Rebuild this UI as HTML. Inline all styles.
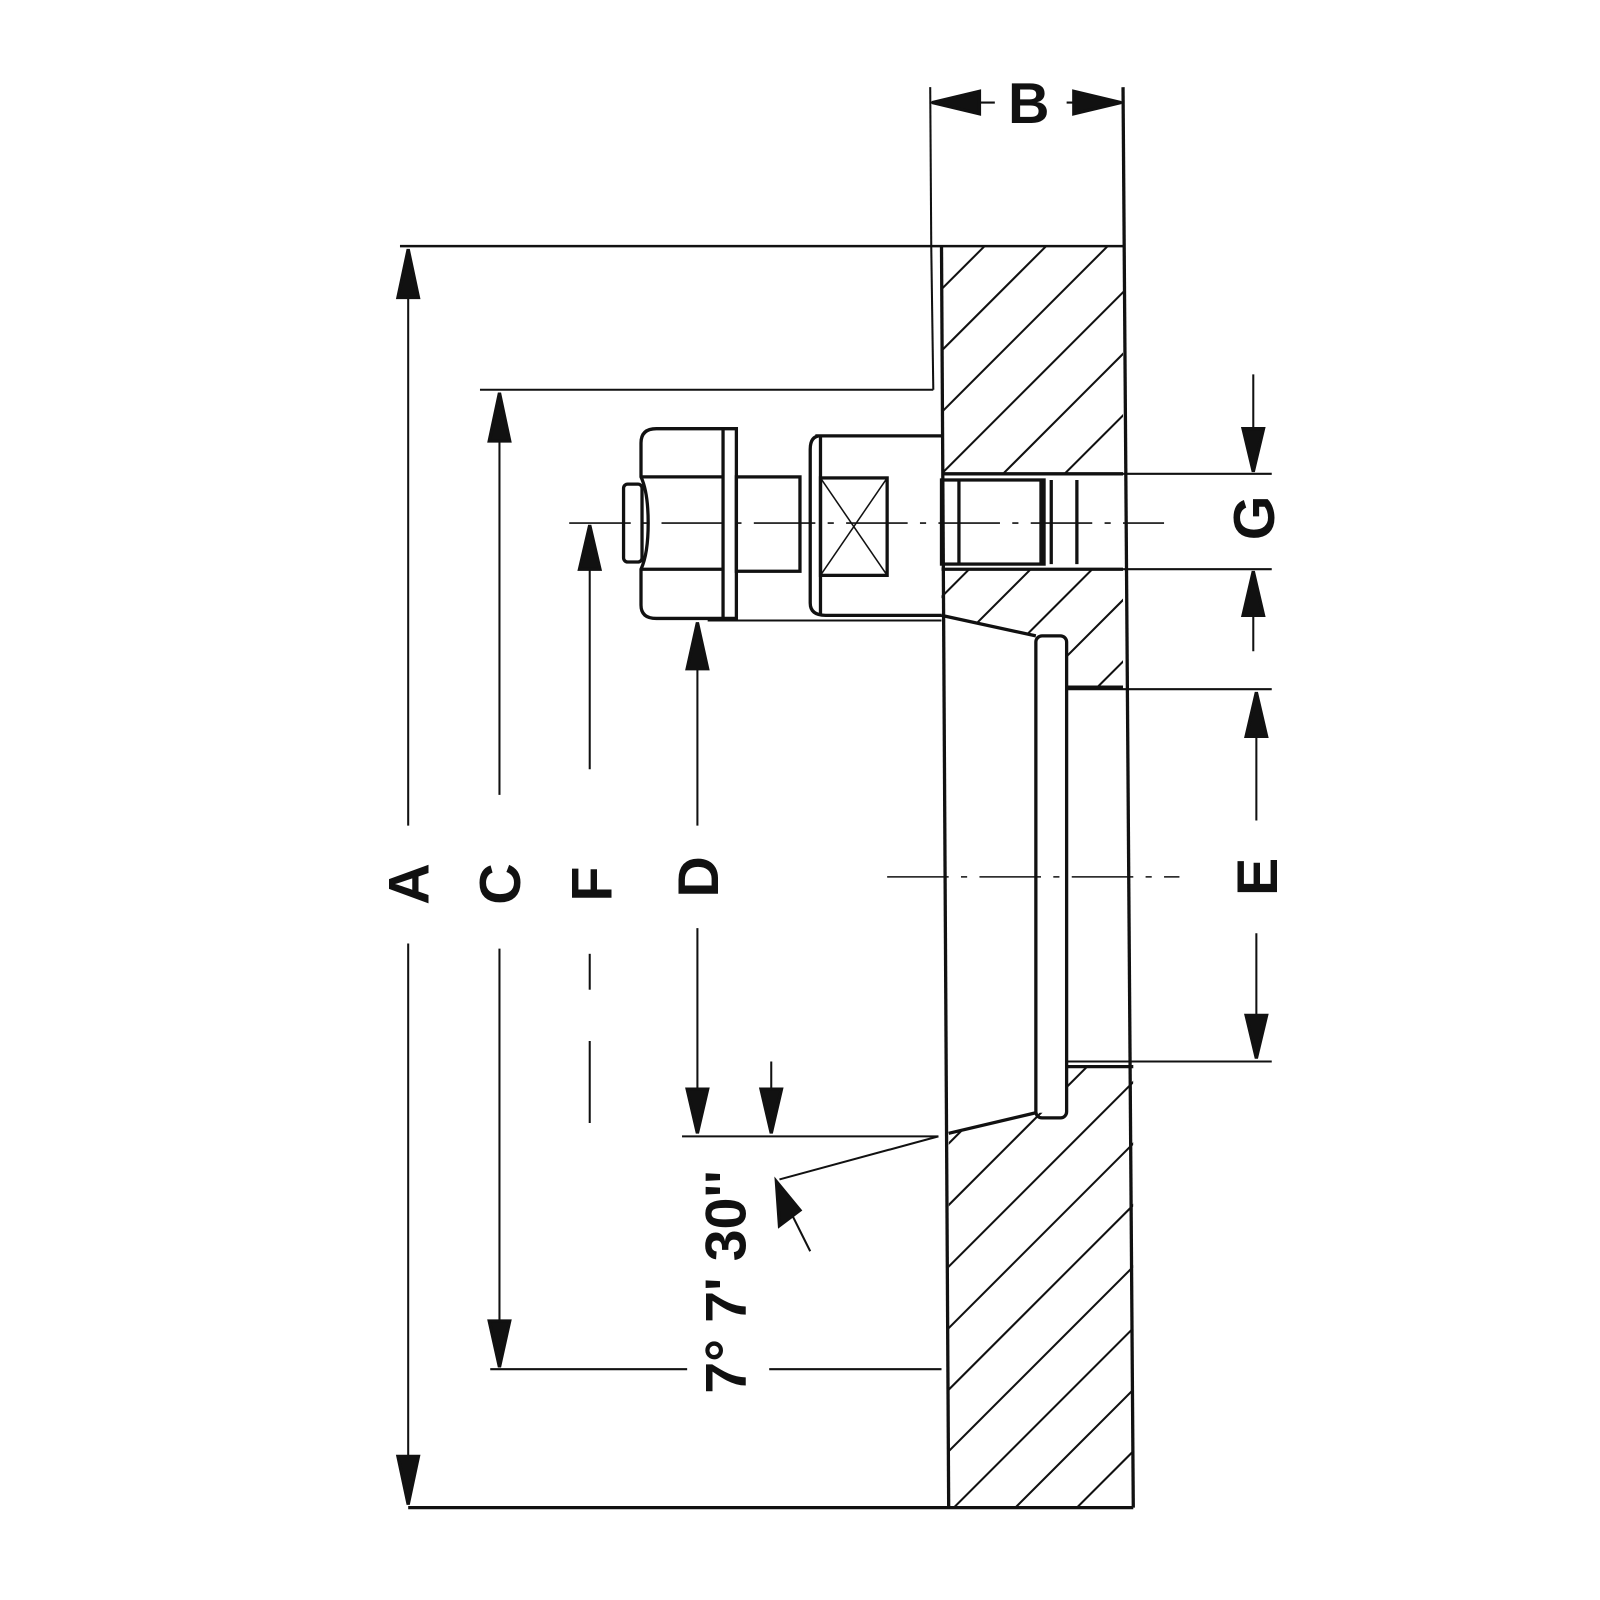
<!DOCTYPE html>
<html><head><meta charset="utf-8"><style>html,body{margin:0;padding:0;background:#fff;width:1600px;height:1600px;overflow:hidden;}svg{display:block}</style></head>
<body>
<svg width="1600" height="1600" viewBox="0 0 1600 1600" xmlns="http://www.w3.org/2000/svg">
<defs>
<clipPath id="h1"><polygon points="918,240 1095,240 1095,462 918,462"/></clipPath>
<clipPath id="h2"><polygon points="918,555 1095,555 1095,670 1040,670 1040,625 1010,620 918,600"/></clipPath>
<clipPath id="h3"><polygon points="925,1105 1010,1085 1040,1085 1040,1040 1105,1040 1105,1470 925,1470"/></clipPath>
<g id="hatch" stroke="#111" stroke-width="2">
<line x1="700" y1="500" x2="1300" y2="-100"/><line x1="700" y1="560" x2="1300" y2="-40"/><line x1="700" y1="620" x2="1300" y2="20"/><line x1="700" y1="680" x2="1300" y2="80"/><line x1="700" y1="740" x2="1300" y2="140"/><line x1="700" y1="800" x2="1300" y2="200"/><line x1="700" y1="860" x2="1300" y2="260"/><line x1="700" y1="920" x2="1300" y2="320"/><line x1="700" y1="980" x2="1300" y2="380"/><line x1="700" y1="1040" x2="1300" y2="440"/><line x1="700" y1="1100" x2="1300" y2="500"/><line x1="700" y1="1160" x2="1300" y2="560"/><line x1="700" y1="1220" x2="1300" y2="620"/><line x1="700" y1="1280" x2="1300" y2="680"/><line x1="700" y1="1340" x2="1300" y2="740"/><line x1="700" y1="1400" x2="1300" y2="800"/><line x1="700" y1="1460" x2="1300" y2="860"/><line x1="700" y1="1520" x2="1300" y2="920"/><line x1="700" y1="1580" x2="1300" y2="980"/><line x1="700" y1="1640" x2="1300" y2="1040"/><line x1="700" y1="1700" x2="1300" y2="1100"/><line x1="700" y1="1760" x2="1300" y2="1160"/><line x1="700" y1="1820" x2="1300" y2="1220"/><line x1="700" y1="1880" x2="1300" y2="1280"/><line x1="700" y1="1940" x2="1300" y2="1340"/><line x1="700" y1="2000" x2="1300" y2="1400"/><line x1="700" y1="2060" x2="1300" y2="1460"/>
</g>
</defs>
<g transform="scale(1.0256)" fill="none" stroke="#111" stroke-width="3.2" font-family="Liberation Sans, sans-serif">
<use href="#hatch" clip-path="url(#h1)"/>
<use href="#hatch" clip-path="url(#h2)"/>
<use href="#hatch" clip-path="url(#h3)"/>
<line x1="390" y1="240" x2="1095" y2="240" stroke-width="2.5"/>
<line x1="398" y1="1470" x2="1105" y2="1470"/>
<line x1="918" y1="240" x2="925" y2="1470"/>
<line x1="908" y1="240" x2="910" y2="380" stroke-width="2"/>
<line x1="1095" y1="85" x2="1105" y2="1470"/>
<line x1="907" y1="85" x2="908" y2="240" stroke-width="2"/>
<line x1="918" y1="462" x2="1095" y2="462"/>
<line x1="918" y1="555" x2="1095" y2="555"/>
<polyline points="918,600 1010,620"/>
<polyline points="925,1105 1010,1085"/>
<rect x="1010" y="620" width="30" height="470" rx="6"/>
<line x1="1040" y1="672" x2="1240" y2="672" stroke-width="2"/>
<line x1="1040" y1="1035" x2="1240" y2="1035" stroke-width="2"/>
<line x1="1040" y1="670" x2="1095" y2="670"/>
<line x1="1040" y1="1040" x2="1105" y2="1040"/>
<path d="M640,418 H718 V603 H640 Q625,603 625,590 V555 Q632,540 632,510 Q632,480 625,465 V432 Q625,418 640,418 Z"/>
<line x1="705" y1="418" x2="705" y2="603"/>
<line x1="625" y1="465" x2="705" y2="465"/>
<line x1="625" y1="555" x2="705" y2="555"/>
<rect x="608" y="472" width="18" height="76" rx="4"/>
<rect x="718" y="465" width="62" height="92"/>
<path d="M795,425 H918 M918,600 H805 Q790,600 790,588 V438 Q790,425 800,425"/>
<line x1="800" y1="425" x2="800" y2="600"/>
<rect x="800" y="466" width="65" height="95"/>
<line x1="800" y1="466" x2="865" y2="561" stroke-width="1.5"/>
<line x1="865" y1="466" x2="800" y2="561" stroke-width="1.5"/>
<line x1="690" y1="605" x2="918" y2="605" stroke-width="2"/>
<rect x="918" y="468" width="100" height="82"/>
<line x1="935" y1="468" x2="935" y2="550"/>
<line x1="1015" y1="468" x2="1015" y2="550"/>
<line x1="1025" y1="468" x2="1025" y2="550"/>
<line x1="1050" y1="468" x2="1050" y2="550"/>
<line x1="555" y1="510" x2="1135" y2="510" stroke-width="1.5" stroke-dasharray="60,12,6,12"/>
<line x1="865" y1="855" x2="1150" y2="855" stroke-width="1.5" stroke-dasharray="60,12,6,12"/>
<line x1="398" y1="255" x2="398" y2="805" stroke-width="2"/>
<line x1="398" y1="920" x2="398" y2="1455" stroke-width="2"/>
<polygon points="398,243 388,290 408,290" fill="#111"/>
<polygon points="398,1467 388,1420 408,1420" fill="#111"/>
<line x1="468" y1="380" x2="910" y2="380" stroke-width="2"/>
<line x1="478" y1="1335" x2="670" y2="1335" stroke-width="2"/>
<line x1="750" y1="1335" x2="918" y2="1335" stroke-width="2"/>
<line x1="487" y1="390" x2="487" y2="775" stroke-width="2"/>
<line x1="487" y1="925" x2="487" y2="1325" stroke-width="2"/>
<polygon points="487,383 477,430 497,430" fill="#111"/>
<polygon points="487,1333 477,1288 497,1288" fill="#111"/>
<line x1="575" y1="515" x2="575" y2="750" stroke-width="2"/>
<line x1="575" y1="930" x2="575" y2="965" stroke-width="2"/>
<line x1="575" y1="1015" x2="575" y2="1095" stroke-width="2"/>
<polygon points="575,512 565,555 585,555" fill="#111"/>
<line x1="680" y1="610" x2="680" y2="805" stroke-width="2"/>
<line x1="680" y1="905" x2="680" y2="1100" stroke-width="2"/>
<polygon points="680,607 670,652 690,652" fill="#111"/>
<polygon points="680,1105 670,1062 690,1062" fill="#111"/>
<line x1="665" y1="1108" x2="915" y2="1108" stroke-width="2"/>
<line x1="752" y1="1035" x2="752" y2="1100" stroke-width="2"/>
<polygon points="752,1105 742,1062 762,1062" fill="#111"/>
<line x1="760" y1="1150" x2="915" y2="1108" stroke-width="2"/>
<line x1="790" y1="1220" x2="765" y2="1170" stroke-width="2"/>
<polygon points="757,1152 760,1195 780,1180" fill="#111"/>
<line x1="1225" y1="680" x2="1225" y2="800" stroke-width="2"/>
<line x1="1225" y1="910" x2="1225" y2="1030" stroke-width="2"/>
<polygon points="1225,675 1215,718 1235,718" fill="#111"/>
<polygon points="1225,1032 1215,990 1235,990" fill="#111"/>
<line x1="1222" y1="365" x2="1222" y2="455" stroke-width="2"/>
<polygon points="1222,460 1212,418 1232,418" fill="#111"/>
<line x1="1222" y1="560" x2="1222" y2="635" stroke-width="2"/>
<polygon points="1222,557 1212,600 1232,600" fill="#111"/>
<line x1="1095" y1="462" x2="1240" y2="462" stroke-width="2"/>
<line x1="1095" y1="555" x2="1240" y2="555" stroke-width="2"/>
<line x1="907" y1="100" x2="970" y2="100" stroke-width="2"/>
<line x1="1040" y1="100" x2="1095" y2="100" stroke-width="2"/>
<polygon points="909,100 955,89 955,111" fill="#111"/>
<polygon points="1093,100 1047,89 1047,111" fill="#111"/>
<g fill="#111" stroke="none" font-size="56" font-weight="bold">
<text x="1003" y="120" text-anchor="middle">B</text>
<text transform="translate(418,862) rotate(-90)" text-anchor="middle">A</text>
<text transform="translate(507,862) rotate(-90)" text-anchor="middle">C</text>
<text transform="translate(596,862) rotate(-90)" text-anchor="middle">F</text>
<text transform="translate(700,855) rotate(-90)" text-anchor="middle">D</text>
<text transform="translate(1245,855) rotate(-90)" text-anchor="middle">E</text>
<text transform="translate(1242,505) rotate(-90)" text-anchor="middle">G</text>
<text transform="translate(727,1250) rotate(-90)" text-anchor="middle">7° 7' 30''</text>
</g>
</g>
</svg>
</body></html>
